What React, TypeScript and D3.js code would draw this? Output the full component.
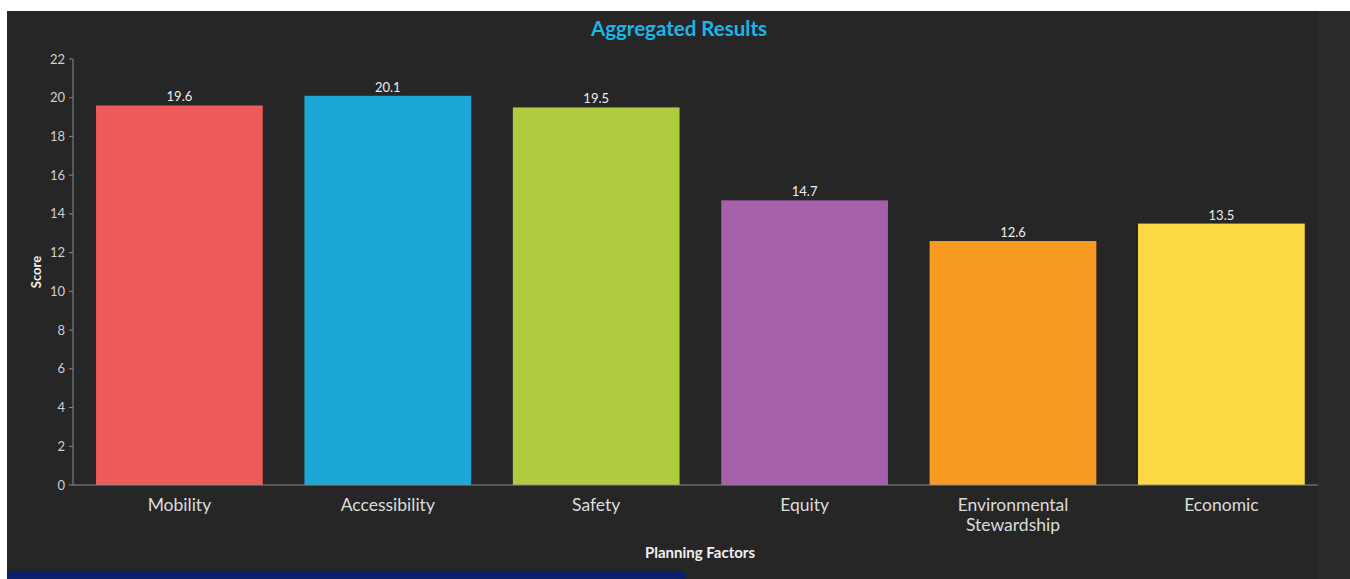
import React from "react";
import * as d3 from "d3";

const categories = ["Mobility", "Accessibility", "Safety", "Equity", "Environmental Stewardship", "Economic"];
const categoryLines = [["Mobility"], ["Accessibility"], ["Safety"], ["Equity"], ["Environmental", "Stewardship"], ["Economic"]];
const scores = [19.6, 20.1, 19.5, 14.7, 12.6, 13.5];
const barColors = ["#ef5b5b", "#1ba8d9", "#afcc3f", "#a65fa9", "#f89b23", "#fdd943"];
const yTicks = [0, 2, 4, 6, 8, 10, 12, 14, 16, 18, 20, 22];

const W = 1350;
const H = 579;
const FONT = "Lato, 'Open Sans', sans-serif";

export default function App() {
  const x = d3.scaleBand<string>().domain(categories).range([75.2, 1325.6]).paddingInner(0.2).paddingOuter(0.1);
  const y = d3.scaleLinear().domain([0, 22]).range([485, 59]);

  return (
    <svg width={W} height={H} style={{ position: "absolute", left: 0, top: 0 }}>
      <rect x={0} y={0} width={W} height={H} fill="#ffffff" />
      <rect x={7} y={11} width={W - 7} height={H - 11} fill="#262626" />
      <rect x={1318} y={11} width={W - 1318} height={H - 11} fill="#2b2b2b" />
      <rect x={7} y={571} width={679} height={8} fill="#0b1f6b" />

      <text x={679} y={36} textAnchor="middle" fill="#1db4e6" fontFamily={FONT} fontWeight={700} fontSize={20.5}>
        Aggregated Results
      </text>

      {/* y axis */}
      <line x1={73} x2={73} y1={y(22)} y2={y(0)} stroke="#8a8a8a" strokeWidth={1} />
      {yTicks.map((t) => (
        <g key={t}>
          <line x1={69} x2={73} y1={y(t)} y2={y(t)} stroke="#8a8a8a" />
          <text x={65} y={y(t) + 4.5} textAnchor="end" fill="#d0d0d0" fontFamily={FONT} fontSize={13}>
            {t}
          </text>
        </g>
      ))}
      <text
        transform={`translate(41,${y(11)}) rotate(-90)`}
        textAnchor="middle"
        fill="#f0f0f0"
        fontFamily={FONT}
        fontWeight={700}
        fontSize={13}
      >
        Score
      </text>

      {/* bars */}
      {categories.map((c, i) => (
        <g key={c}>
          <rect x={x(c)} y={y(scores[i])} width={x.bandwidth()} height={y(0) - y(scores[i])} fill={barColors[i]} />
          <text
            x={(x(c) as number) + x.bandwidth() / 2}
            y={y(scores[i]) - 4}
            textAnchor="middle"
            fill="#eeeeee"
            fontFamily={FONT}
            fontSize={13}
          >
            {scores[i]}
          </text>
        </g>
      ))}

      {/* x axis */}
      <line x1={73} x2={1318} y1={y(0)} y2={y(0)} stroke="#8a8a8a" strokeWidth={1} />
      {categories.map((c, i) => (
        <text
          key={c}
          x={(x(c) as number) + x.bandwidth() / 2}
          y={511}
          textAnchor="middle"
          fill="#dcdcdc"
          fontFamily={FONT}
          fontSize={17.5}
        >
          {categoryLines[i].map((ln, j) => (
            <tspan key={j} x={(x(c) as number) + x.bandwidth() / 2} dy={j === 0 ? 0 : 20}>
              {ln}
            </tspan>
          ))}
        </text>
      ))}
      <text x={700} y={558} textAnchor="middle" fill="#f0f0f0" fontFamily={FONT} fontWeight={700} fontSize={15}>
        Planning Factors
      </text>
    </svg>
  );
}
